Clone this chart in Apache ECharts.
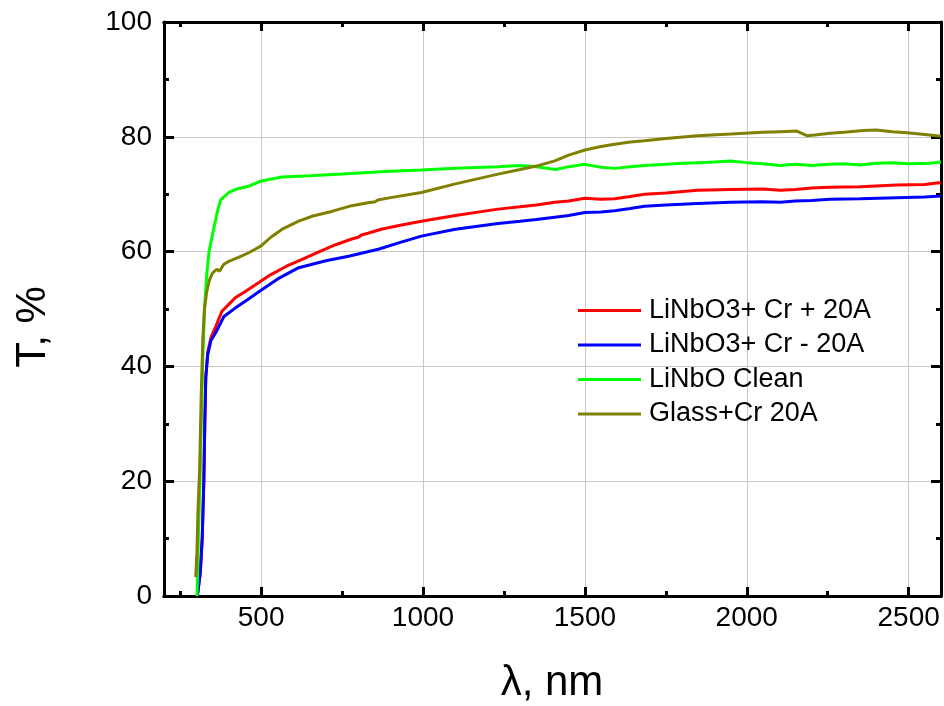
<!DOCTYPE html>
<html>
<head>
<meta charset="utf-8">
<script src="https://cdn.jsdelivr.net/npm/echarts@6/dist/echarts.min.js"></script>
<style>
html,body{margin:0;padding:0;background:#fff;}
#chart{width:944px;height:706px;}
</style>
</head>
<body>
<div id="chart"></div>
<script>
const seriesNames = ['LiNbO3+ Cr + 20A', 'LiNbO3+ Cr - 20A', 'LiNbO Clean', 'Glass+Cr 20A'];

const redWl = [303,312,318,323,326,329,335,345,360,379,400,421,450,493,530,580,625,680,730,780,800,810,830,871,930,995,1100,1232,1300,1350,1407,1450,1500,1550,1592,1640,1684,1750,1848,1950,2050,2103,2150,2200,2257,2350,2463,2550,2593,2600];
const redT  = [0,4,10,20,30,38,42.5,45,47,49.6,50.8,52,53,54.6,56,57.5,58.6,60,61.2,62.2,62.5,62.9,63.2,63.9,64.6,65.3,66.3,67.4,67.8,68.1,68.6,68.8,69.3,69.1,69.2,69.6,70,70.2,70.7,70.8,70.9,70.7,70.8,71.1,71.2,71.3,71.6,71.7,72,71.9];

const blueWl = [303,312,318,323,326,329,335,345,360,385,421,460,493,550,616,700,770,862,930,995,1100,1232,1300,1350,1407,1450,1500,1550,1592,1640,1684,1750,1848,1950,2050,2103,2150,2200,2257,2350,2463,2550,2600];
const blueT  = [0,4,10,20,30,38,42,44.5,45.9,48.7,50.2,51.7,53,55.2,57.2,58.4,59.2,60.4,61.6,62.7,63.9,64.9,65.3,65.6,66,66.3,66.8,66.9,67.1,67.5,67.9,68.1,68.4,68.6,68.7,68.6,68.8,68.9,69.1,69.2,69.4,69.5,69.7];

const greenWl = [302,306,311,315,319,325,332,339,351,365,375,400,430,462,500,565,650,750,831,900,995,1100,1232,1300,1350,1410,1450,1500,1550,1592,1640,1684,1750,1800,1850,1900,1950,2000,2050,2103,2150,2200,2257,2300,2350,2400,2450,2500,2565,2600];
const greenT  = [0,10,20,30,40,50,56,60,63.3,67,69,70.3,71,71.4,72.3,73,73.2,73.5,73.8,74,74.2,74.5,74.8,75,74.8,74.3,74.8,75.2,74.7,74.5,74.8,75,75.2,75.4,75.5,75.6,75.8,75.5,75.3,75,75.2,75,75.2,75.3,75.1,75.4,75.5,75.3,75.4,75.6];

const oliveWl = [298,302,305,310,315,320,325,332,340,350,363,372,378,385,400,430,462,500,530,565,616,660,718,780,830,853,860,900,995,1100,1232,1300,1350,1407,1450,1500,1550,1592,1640,1684,1750,1848,1950,2050,2103,2155,2186,2210,2257,2300,2360,2400,2450,2495,2550,2600];
const oliveT  = [3.3,8,15,22,35,45,50,53,55,56.3,56.9,56.6,57.2,57.8,58.3,59,59.8,61,62.5,63.9,65.3,66.2,67,68,68.5,68.7,69.0,69.4,70.3,71.8,73.5,74.3,74.9,75.8,76.8,77.7,78.3,78.7,79.1,79.3,79.7,80.2,80.5,80.8,80.9,81,80.2,80.3,80.6,80.8,81.1,81.2,80.9,80.7,80.4,80.1];

const xMajorTicks = [500, 1000, 1500, 2000, 2500];
const xMinorTicks = [250, 750, 1250, 1750, 2250];

const colors = ['#ff0000', '#0000ff', '#00ff00', '#808000'];
const FONT = 'Liberation Sans, Arial, sans-serif';

function pairs(xs, ys) { return xs.map((x, i) => [x, ys[i]]); }

const chart = echarts.init(document.getElementById('chart'), null, {renderer: 'canvas'});

const axisLineStyle = {show: true, onZero: false, lineStyle: {color: '#000', width: 3}};

function xAx(pos, ticks, len, labels, split) {
  return {
    type: 'value', min: 200, max: 2600, position: pos,
    axisLine: axisLineStyle,
    axisTick: {show: true, inside: true, length: len, customValues: ticks, lineStyle: {color: '#000', width: 3}},
    axisLabel: labels ? {show: true, customValues: ticks, formatter: v => String(v), fontSize: 28, color: '#000', fontFamily: FONT, margin: 8} : {show: false},
    splitLine: split ? {show: true, lineStyle: {color: '#c8c8c8', width: 1}} : {show: false}
  };
}

function yAx(pos, labels, split) {
  return {
    type: 'value', min: 0, max: 100, interval: 20, position: pos,
    axisLine: axisLineStyle,
    axisTick: {show: true, inside: true, length: 10, lineStyle: {color: '#000', width: 3}},
    minorTick: {show: true, splitNumber: 2, length: 5, lineStyle: {color: '#000', width: 3}},
    axisLabel: labels ? {show: true, formatter: v => String(v), fontSize: 28, color: '#000', fontFamily: FONT, margin: 12} : {show: false},
    splitLine: split ? {show: true, lineStyle: {color: '#c8c8c8', width: 1}} : {show: false}
  };
}

const dataSets = [pairs(redWl, redT), pairs(blueWl, blueT), pairs(greenWl, greenT), pairs(oliveWl, oliveT)];

chart.setOption({
  animation: false,
  backgroundColor: '#fff',
  grid: {left: 164, right: 3, top: 22, bottom: 110, containLabel: false},
  xAxis: [
    xAx('bottom', xMajorTicks, 9, true, true),
    xAx('bottom', xMinorTicks, 5, false, false),
    xAx('top', xMajorTicks, 9, false, false),
    xAx('top', xMinorTicks, 5, false, false)
  ],
  yAxis: [
    yAx('left', true, true),
    yAx('right', false, false)
  ],
  legend: {
    orient: 'vertical', left: 573, top: 292,
    itemWidth: 63, itemHeight: 3, itemGap: 7.5, icon: 'rect',
    textStyle: {fontSize: 27, lineHeight: 27, color: '#000', fontFamily: FONT, padding: [0, 0, 0, 3]},
    data: seriesNames
  },
  graphic: [
    {type: 'text', x: 552, y: 683, style: {text: 'λ, nm', fontSize: 42, fontFamily: FONT, fill: '#000', textAlign: 'center', textVerticalAlign: 'middle', align: 'center', verticalAlign: 'middle'}},
    {type: 'text', x: 33, y: 327, rotation: Math.PI / 2, style: {text: 'T, %', fontSize: 42, fontFamily: FONT, fill: '#000', textAlign: 'center', textVerticalAlign: 'middle', align: 'center', verticalAlign: 'middle'}}
  ],
  series: seriesNames.map((name, i) => ({
    name: name, type: 'line', xAxisIndex: 0, yAxisIndex: 0,
    data: dataSets[i], showSymbol: false, symbol: 'none',
    lineStyle: {color: colors[i], width: 3}, itemStyle: {color: colors[i]},
    z: 2 + i
  }))
});
</script>
</body>
</html>
